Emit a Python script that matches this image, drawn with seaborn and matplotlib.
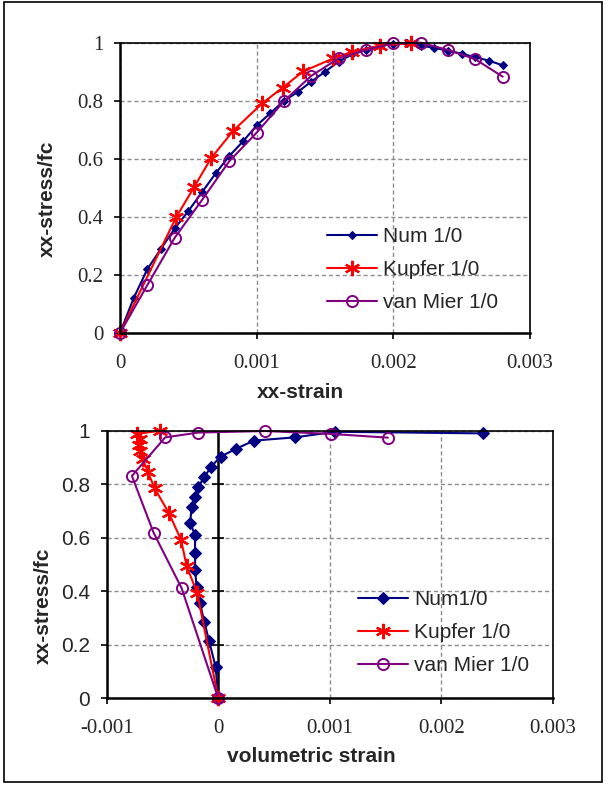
import numpy as np
import seaborn as sns
import matplotlib
matplotlib.use("Agg")
import matplotlib.pyplot as plt
from matplotlib.patches import Rectangle

# ---- top panel: xx-strain vs xx-stress/fc
num_top_x = [0, 0.0001, 0.0002, 0.0003, 0.0004, 0.0005, 0.0006, 0.0007, 0.0008, 0.0009,
             0.0010, 0.0011, 0.0012, 0.0013, 0.0014, 0.0015, 0.0016, 0.0017, 0.0018, 0.0019,
             0.0020, 0.0021, 0.0022, 0.0023, 0.0024, 0.0025, 0.0026, 0.0027, 0.0028]
num_top_y = [0, 0.12, 0.22, 0.29, 0.36, 0.42, 0.485, 0.55, 0.61, 0.66,
             0.715, 0.757, 0.80, 0.83, 0.866, 0.90, 0.935, 0.96, 0.975, 0.988,
             0.997, 0.998, 0.99, 0.982, 0.973, 0.962, 0.95, 0.938, 0.922]

kupfer_top_x = [0, 0.00041, 0.000544, 0.000666, 0.000829, 0.00104, 0.00119, 0.00134,
                0.00156, 0.0017, 0.0019, 0.00213]
kupfer_top_y = [0, 0.398, 0.504, 0.602, 0.697, 0.791, 0.845, 0.901,
                0.946, 0.969, 0.99, 0.998]

mier_top_x = [0, 0.0002, 0.0004, 0.0006, 0.0008, 0.0010, 0.0012, 0.0014,
              0.0016, 0.0018, 0.0020, 0.0022, 0.0024, 0.0026, 0.0028]
mier_top_y = [0, 0.165, 0.328, 0.458, 0.592, 0.69, 0.799, 0.886,
              0.946, 0.975, 0.998, 1.0, 0.975, 0.943, 0.883]

# ---- bottom panel: volumetric strain vs xx-stress/fc
num_bot_x = [0, -0.000024, -0.000083, -0.000125, -0.000164, -0.000194, -0.000208, -0.000208,
             -0.000208, -0.000253, -0.000238, -0.000208, -0.000179, -0.000125, -0.000069,
             0.00002, 0.000157, 0.00032, 0.000684, 0.00105, 0.00237]
num_bot_y = [0, 0.118, 0.215, 0.286, 0.355, 0.417, 0.479, 0.542,
             0.610, 0.656, 0.714, 0.753, 0.791, 0.826, 0.863,
             0.903, 0.932, 0.963, 0.975, 0.996, 0.990]

kupfer_bot_x = [0, -0.000188, -0.000283, -0.000334, -0.000441, -0.000571, -0.00063,
                -0.000676, -0.0007, -0.000714, -0.0007, -0.000724, -0.000521]
kupfer_bot_y = [0, 0.392, 0.494, 0.592, 0.691, 0.785, 0.845,
                0.895, 0.925, 0.948, 0.970, 0.988, 1.0]

mier_bot_x = [0, -0.000328, -0.00058, -0.000774, -0.000476, -0.000179, 0.000417, 0.00101, 0.00152]
mier_bot_y = [0, 0.411, 0.619, 0.831, 0.975, 0.993, 0.999, 0.988, 0.974]

top_xticks = [0, 0.001, 0.002, 0.003]
top_xticklabels = ["0", "0.001", "0.002", "0.003"]
bot_xticks = [-0.001, 0, 0.001, 0.002, 0.003]
bot_xticklabels = ["-0.001", "0", "0.001", "0.002", "0.003"]
yticks = [0, 0.2, 0.4, 0.6, 0.8, 1.0]
yticklabels = ["0", "0.2", "0.4", "0.6", "0.8", "1"]

labels_top = ["Num 1/0", "Kupfer 1/0", "van Mier 1/0"]
labels_bot = ["Num1/0", "Kupfer 1/0", "van Mier 1/0"]

NAVY = "#000080"
RED = "#ff0000"
PURPLE = "#800080"
SERIF = "Liberation Serif"
SANS = "Liberation Sans"
FS = 15
ASTER = (6, 2, 0)

sns.set_style("white")
plt.rcParams["font.family"] = [SANS, "DejaVu Sans"]

fig = plt.figure(figsize=(6.08, 7.93), dpi=100)
fig.patches.append(Rectangle((4 / 608, 1 - 782 / 793), 598 / 608, 780 / 793,
                             transform=fig.transFigure, fill=False, ec="black", lw=1.2))

ax1 = fig.add_axes([120 / 608, 1 - 333 / 793, 410 / 608, 290.3 / 793])
ax2 = fig.add_axes([106.7 / 608, 1 - 698.3 / 793, 446.3 / 608, 267.6 / 793])


def draw(ax, sets, num_ms):
    (nx, ny, nl), (kx, ky, kl), (mx, my, ml) = sets
    sns.lineplot(x=nx, y=ny, ax=ax, sort=False, estimator=None, color=NAVY, lw=1.5,
                 marker="D", ms=num_ms, mec=NAVY, mfc=NAVY, label=nl, clip_on=False)
    sns.lineplot(x=kx, y=ky, ax=ax, sort=False, estimator=None, color=RED, lw=1.5,
                 marker=ASTER, ms=11, mew=1.6, mec=RED, label=kl, clip_on=False)
    sns.lineplot(x=mx, y=my, ax=ax, sort=False, estimator=None, color=PURPLE, lw=1.5,
                 marker="o", ms=8, mew=1.4, mec=PURPLE, mfc="none", label=ml, clip_on=False)


draw(ax1, [(num_top_x, num_top_y, labels_top[0]),
           (kupfer_top_x, kupfer_top_y, labels_top[1]),
           (mier_top_x, mier_top_y, labels_top[2])], 4.5)
draw(ax2, [(num_bot_x, num_bot_y, labels_bot[0]),
           (kupfer_bot_x, kupfer_bot_y, labels_bot[1]),
           (mier_bot_x, mier_bot_y, labels_bot[2])], 6.5)

ax1.set_xlim(0, 0.003)
ax2.set_xlim(-0.001, 0.003)
for ax in (ax1, ax2):
    ax.set_ylim(0, 1)
    ax.set_yticks(yticks)
    ax.grid(True, ls=(0, (3, 2)), color="#8c8c8c", lw=1)
    ax.set_axisbelow(True)
    for side in ("left", "bottom"):
        ax.spines[side].set_linewidth(1.8)
        ax.spines[side].set_color("black")
    for side in ("top", "right"):
        ax.spines[side].set_linewidth(1.2)
        ax.spines[side].set_color("black")
    ax.tick_params(direction="out", length=4, width=1.2, color="black", pad=8,
                   bottom=True, left=True)
    ax.tick_params(axis="x", pad=11)

ax1.set_xticks(top_xticks)
ax1.set_xticklabels(top_xticklabels, fontsize=FS, family=SERIF)
ax1.set_yticklabels(yticklabels, fontsize=FS, family=SERIF)
ax2.set_xticks(bot_xticks)
ax2.set_xticklabels(bot_xticklabels, fontsize=FS, family=SERIF)
ax2.set_yticklabels(yticklabels, fontsize=FS, family=SANS)

# y axis crossing at zero in the bottom panel
ax2.axvline(0, color="black", lw=1.8, zorder=1.5)
ax2.plot(np.zeros(len(yticks)), yticks, ls="none", marker="_", ms=9, mew=1.2,
         color="black", zorder=1.6)

ax1.set_xlabel("xx-strain", fontsize=FS, fontweight="bold", va="center")
ax1.set_ylabel("xx-stress/fc", fontsize=FS, fontweight="bold", va="center")
ax1.xaxis.set_label_coords(0.441, (333 - 392) / 290.3)
ax1.yaxis.set_label_coords((47 - 120) / 410, (333 - 199) / 290.3)

ax2.set_xlabel("volumetric strain", fontsize=FS, fontweight="bold", va="center")
ax2.set_ylabel("xx-stress/fc", fontsize=FS, fontweight="bold", va="center")
ax2.xaxis.set_label_coords((311 - 106.7) / 446.3, (698.3 - 757) / 267.6)
ax2.yaxis.set_label_coords((43 - 106.7) / 446.3, (698.3 - 606) / 267.6)

ax1.legend(loc="upper left", bbox_to_anchor=((327 - 120) / 410, (333 - 227) / 290.3),
           frameon=False, fontsize=FS, handlelength=2.4, handletextpad=0.3,
           labelspacing=0.68, borderpad=0, borderaxespad=0)
ax2.legend(loc="upper left", bbox_to_anchor=((358 - 106.7) / 446.3, (698.3 - 590) / 267.6),
           frameon=False, fontsize=FS, handlelength=2.4, handletextpad=0.3,
           labelspacing=0.68, borderpad=0, borderaxespad=0)

fig.savefig("out.png", dpi=100)
